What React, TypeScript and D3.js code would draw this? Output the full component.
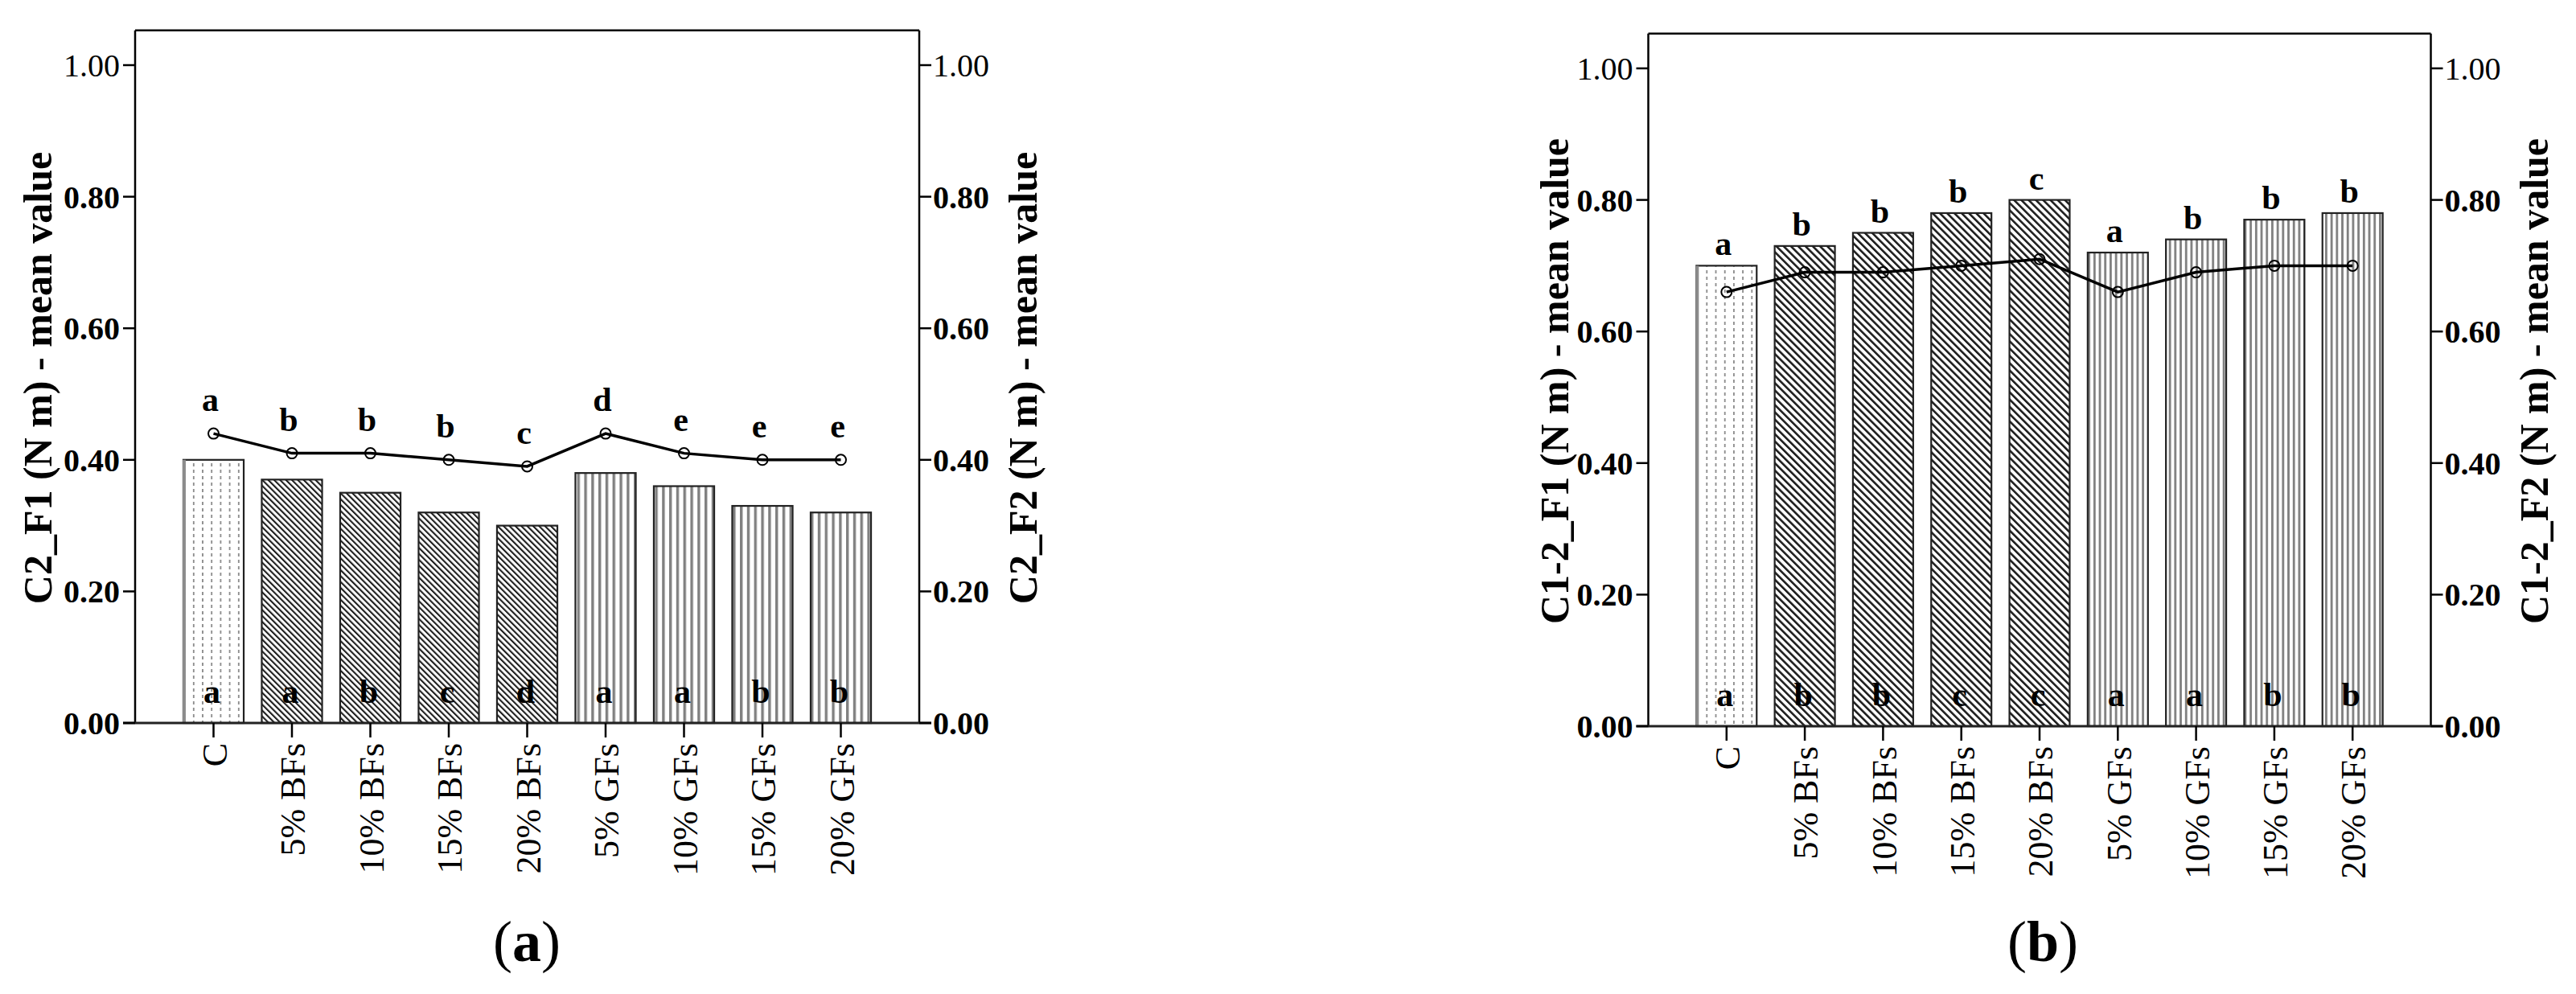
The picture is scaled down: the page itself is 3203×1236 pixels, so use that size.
import React from "react";
import * as d3 from "d3";

const categories = ["C", "5% BFs", "10% BFs", "15% BFs", "20% BFs", "5% GFs", "10% GFs", "15% GFs", "20% GFs"];
const yTicks = [0, 0.2, 0.4, 0.6, 0.8, 1.0];

const barsA = [0.40, 0.37, 0.35, 0.32, 0.30, 0.38, 0.36, 0.33, 0.32];
const lineA = [0.44, 0.41, 0.41, 0.40, 0.39, 0.44, 0.41, 0.40, 0.40];
const topLettersA = ["a", "b", "b", "b", "c", "d", "e", "e", "e"];
const bottomLettersA = ["a", "a", "b", "c", "d", "a", "a", "b", "b"];

const barsB = [0.70, 0.73, 0.75, 0.78, 0.80, 0.72, 0.74, 0.77, 0.78];
const lineB = [0.66, 0.69, 0.69, 0.70, 0.71, 0.66, 0.69, 0.70, 0.70];
const topLettersB = ["a", "b", "b", "b", "c", "a", "b", "b", "b"];
const bottomLettersB = ["a", "b", "b", "c", "c", "a", "a", "b", "b"];

const FONT = "Liberation Serif, Times New Roman, Times, serif";

type Cfg = {
  id: string;
  left: number;
  right: number;
  y0: number;
  y1: number;
  bars: number[];
  line: number[];
  top: string[];
  bottom: string[];
  titleL: string;
  titleR: string;
  titleLX: number;
  titleRX: number;
  titleY: number;
  label: string;
  labelX: number;
  topOffset: number;
  bfSpacing: number;
  gfSpacing: number;
  gfWidth: number;
};

function kind(c: string) {
  if (c.includes("BF")) return "bf";
  if (c.includes("GF")) return "gf";
  return "c";
}

function Panel({ cfg }: { cfg: Cfg }) {
  const x = d3.scalePoint<string>().domain(categories).range([cfg.left, cfg.right]).padding(1);
  const y = d3.scaleLinear().domain([0, 1]).range([cfg.y0, cfg.y1]);
  const bw = x.step() * 0.77;
  const yTop = y(1.053);
  const lineGen = d3
    .line<number>()
    .x((_, i) => x(categories[i]) as number)
    .y((d) => y(d));
  const tickLen = 15;
  return (
    <g>
      <defs>
        <pattern id={`c-${cfg.id}`} patternUnits="userSpaceOnUse" width={11.2} height={8} x={cfg.left}>
          <rect width={11.2} height={8} fill="#fff" />
          <line x1={5.6} y1={0} x2={5.6} y2={4} stroke="#8a8a8a" strokeWidth={1.8} />
        </pattern>
        <pattern
          id={`bf-${cfg.id}`}
          patternUnits="userSpaceOnUse"
          width={cfg.bfSpacing}
          height={cfg.bfSpacing}
          patternTransform="rotate(-45)"
        >
          <rect width={cfg.bfSpacing} height={cfg.bfSpacing} fill="#fff" />
          <rect x={0} y={0} width={cfg.bfSpacing * 0.4} height={cfg.bfSpacing} fill="#1a1a1a" />
        </pattern>
        <pattern id={`gf-${cfg.id}`} patternUnits="userSpaceOnUse" width={cfg.gfSpacing} height={10} x={cfg.left + 4}>
          <rect width={cfg.gfSpacing} height={10} fill="#fff" />
          <rect x={0} y={0} width={cfg.gfWidth} height={10} fill="#808080" />
        </pattern>
      </defs>

      {/* bars */}
      {cfg.bars.map((v, i) => {
        const cx = x(categories[i]) as number;
        const k = kind(categories[i]);
        return (
          <g key={`b${i}`}>
            <rect
              x={cx - bw / 2}
              y={y(v)}
              width={bw}
              height={cfg.y0 - y(v)}
              fill={`url(#${k}-${cfg.id})`}
              stroke="#222"
              strokeWidth={2.2}
            />
            {k === "c" && (
              <line x1={cx - bw / 2 + 1} x2={cx - bw / 2 + 1} y1={y(v)} y2={cfg.y0} stroke="#8c8c8c" strokeWidth={4} />
            )}
          </g>
        );
      })}

      {/* line */}
      <path d={lineGen(cfg.line) as string} fill="none" stroke="#000" strokeWidth={3.5} />
      {cfg.line.map((v, i) => (
        <circle key={`p${i}`} cx={x(categories[i]) as number} cy={y(v)} r={6.5} fill="none" stroke="#000" strokeWidth={2} />
      ))}

      {/* letters */}
      {cfg.top.map((t, i) => (
        <text
          key={`t${i}`}
          x={(x(categories[i]) as number) - 4}
          y={y(Math.max(cfg.bars[i], cfg.line[i])) - cfg.topOffset}
          textAnchor="middle"
          fontFamily={FONT}
          fontWeight="bold"
          fontSize={42}
        >
          {t}
        </text>
      ))}
      {cfg.bottom.map((t, i) => (
        <text
          key={`u${i}`}
          x={(x(categories[i]) as number) - 2}
          y={cfg.y0 - 25}
          textAnchor="middle"
          fontFamily={FONT}
          fontWeight="bold"
          fontSize={42}
        >
          {t}
        </text>
      ))}

      {/* frame */}
      <line x1={cfg.left} x2={cfg.right} y1={yTop} y2={yTop} stroke="#000" strokeWidth={2.5} />
      <line x1={cfg.left} x2={cfg.left} y1={yTop} y2={cfg.y0} stroke="#000" strokeWidth={2.5} />
      <line x1={cfg.right} x2={cfg.right} y1={yTop} y2={cfg.y0} stroke="#000" strokeWidth={2.5} />
      <line x1={cfg.left - tickLen} x2={cfg.right + tickLen} y1={cfg.y0} y2={cfg.y0} stroke="#222" strokeWidth={3} />

      {/* y ticks */}
      {yTicks.map((t) => (
        <g key={`yt${t}`}>
          <line x1={cfg.left - tickLen} x2={cfg.left} y1={y(t)} y2={y(t)} stroke="#000" strokeWidth={2.5} />
          <line x1={cfg.right} x2={cfg.right + tickLen} y1={y(t)} y2={y(t)} stroke="#000" strokeWidth={2.5} />
          <text
            x={cfg.left - tickLen - 4}
            y={y(t)}
            dy="0.35em"
            textAnchor="end"
            fontFamily={FONT}
            fontWeight={t === 1 ? "normal" : "bold"}
            fontSize={40}
          >
            {d3.format(".2f")(t)}
          </text>
          <text
            x={cfg.right + tickLen + 2}
            y={y(t)}
            dy="0.35em"
            textAnchor="start"
            fontFamily={FONT}
            fontWeight={t === 1 ? "normal" : "bold"}
            fontSize={40}
          >
            {d3.format(".2f")(t)}
          </text>
        </g>
      ))}

      {/* x ticks */}
      {categories.map((c) => {
        const cx = x(c) as number;
        return (
          <g key={`xt${c}`}>
            <line x1={cx} x2={cx} y1={cfg.y0} y2={cfg.y0 + 18} stroke="#000" strokeWidth={2.5} />
            <text
              transform={`translate(${cx},${cfg.y0 + 25}) rotate(-90)`}
              dy="0.37em"
              textAnchor="end"
              fontFamily={FONT}
              fontSize={44}
            >
              {c}
            </text>
          </g>
        );
      })}

      {/* axis titles */}
      <text
        transform={`translate(${cfg.titleLX},${cfg.titleY}) rotate(-90)`}
        textAnchor="middle"
        fontFamily={FONT}
        fontWeight="bold"
        fontSize={50}
      >
        {cfg.titleL}
      </text>
      <text
        transform={`translate(${cfg.titleRX},${cfg.titleY}) rotate(-90)`}
        textAnchor="middle"
        fontFamily={FONT}
        fontWeight="bold"
        fontSize={50}
      >
        {cfg.titleR}
      </text>

      {/* panel label */}
      <text x={cfg.labelX} y={1195} textAnchor="middle" fontFamily={FONT} fontSize={72}>
        (<tspan fontWeight="bold">{cfg.label}</tspan>)
      </text>
    </g>
  );
}

const cfgA: Cfg = {
  id: "a",
  left: 168,
  right: 1143,
  y0: 899,
  y1: 81,
  bars: barsA,
  line: lineA,
  top: topLettersA,
  bottom: bottomLettersA,
  titleL: "C2_F1 (N m) - mean value",
  titleR: "C2_F2 (N m) - mean value",
  titleLX: 64,
  titleRX: 1289,
  titleY: 470,
  label: "a",
  labelX: 655,
  topOffset: 28,
  bfSpacing: 5.2,
  gfSpacing: 8.8,
  gfWidth: 3.4,
};

const cfgB: Cfg = {
  id: "b",
  left: 2049.5,
  right: 3022.5,
  y0: 903,
  y1: 85,
  bars: barsB,
  line: lineB,
  top: topLettersB,
  bottom: bottomLettersB,
  titleL: "C1-2_F1 (N m) - mean value",
  titleR: "C1-2_F2 (N m) - mean value",
  titleLX: 1950,
  titleRX: 3168,
  titleY: 474,
  label: "b",
  labelX: 2540,
  topOffset: 13,
  bfSpacing: 6.4,
  gfSpacing: 6.7,
  gfWidth: 2.8,
};

export default function App() {
  return (
    <div style={{ position: "absolute", left: 0, top: 0 }}>
      <svg width={3203} height={1236} viewBox="0 0 3203 1236" style={{ display: "block", background: "#fff" }}>
        <rect width={3203} height={1236} fill="#fff" />
        <Panel cfg={cfgA} />
        <Panel cfg={cfgB} />
      </svg>
    </div>
  );
}
